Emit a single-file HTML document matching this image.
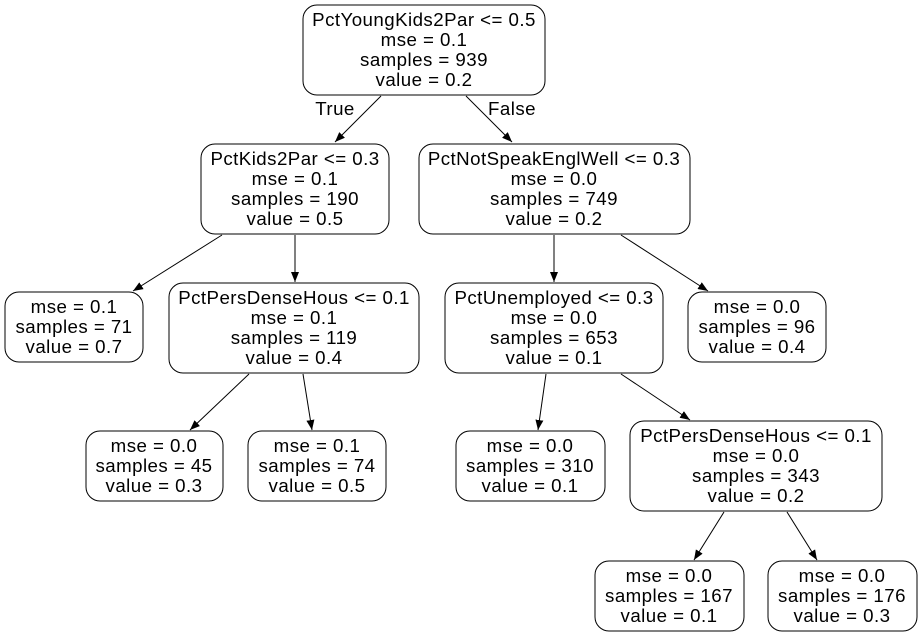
<!DOCTYPE html>
<html><head><meta charset="utf-8"><style>
html,body{margin:0;padding:0;background:#fff;}
svg{display:block;}
text{font-family:"Liberation Sans",sans-serif;font-size:18.7px;letter-spacing:0.45px;fill:#000;text-anchor:middle;}
rect{fill:#fff;stroke:#000;stroke-width:1;}
line{stroke:#000;stroke-width:1;}
</style></head><body>
<svg width="923" height="636" viewBox="0 0 923 636" xmlns="http://www.w3.org/2000/svg">
<defs><marker id="a" markerWidth="10" markerHeight="8" refX="10" refY="4" orient="auto" markerUnits="userSpaceOnUse"><polygon points="0,0 10,4 0,8" fill="#000"/></marker></defs>
<line x1="381" y1="96" x2="335" y2="142" marker-end="url(#a)"/>
<line x1="466" y1="96" x2="512" y2="142" marker-end="url(#a)"/>
<line x1="222" y1="235" x2="133" y2="291" marker-end="url(#a)"/>
<line x1="295" y1="235" x2="295" y2="282" marker-end="url(#a)"/>
<line x1="554" y1="235" x2="554" y2="282" marker-end="url(#a)"/>
<line x1="621" y1="235" x2="708" y2="291" marker-end="url(#a)"/>
<line x1="249" y1="374" x2="190" y2="430" marker-end="url(#a)"/>
<line x1="303" y1="374" x2="312" y2="430" marker-end="url(#a)"/>
<line x1="546" y1="374" x2="538" y2="430" marker-end="url(#a)"/>
<line x1="621" y1="374" x2="690" y2="420" marker-end="url(#a)"/>
<line x1="724" y1="512" x2="694" y2="560" marker-end="url(#a)"/>
<line x1="787" y1="512" x2="817" y2="560" marker-end="url(#a)"/>
<text x="335" y="115">True</text>
<text x="512" y="115">False</text>

<rect x="303" y="5" width="242" height="90" rx="14"/>
<text x="424" y="26">PctYoungKids2Par &lt;= 0.5</text><text x="424" y="46">mse = 0.1</text><text x="424" y="66">samples = 939</text><text x="424" y="86">value = 0.2</text>

<rect x="201" y="144" width="188" height="90" rx="14"/>
<text x="295" y="165">PctKids2Par &lt;= 0.3</text><text x="295" y="185">mse = 0.1</text><text x="295" y="205">samples = 190</text><text x="295" y="225">value = 0.5</text>

<rect x="419" y="144" width="271" height="90" rx="14"/>
<text x="554" y="165">PctNotSpeakEnglWell &lt;= 0.3</text><text x="554" y="185">mse = 0.0</text><text x="554" y="205">samples = 749</text><text x="554" y="225">value = 0.2</text>

<rect x="5" y="292" width="138" height="70" rx="14"/>
<text x="74" y="313">mse = 0.1</text><text x="74" y="333">samples = 71</text><text x="74" y="353">value = 0.7</text>

<rect x="169" y="283" width="250" height="90" rx="14"/>
<text x="294" y="304">PctPersDenseHous &lt;= 0.1</text><text x="294" y="324">mse = 0.1</text><text x="294" y="344">samples = 119</text><text x="294" y="364">value = 0.4</text>

<rect x="445" y="283" width="218" height="90" rx="14"/>
<text x="554" y="304">PctUnemployed &lt;= 0.3</text><text x="554" y="324">mse = 0.0</text><text x="554" y="344">samples = 653</text><text x="554" y="364">value = 0.1</text>

<rect x="688" y="292" width="138" height="70" rx="14"/>
<text x="757" y="313">mse = 0.0</text><text x="757" y="333">samples = 96</text><text x="757" y="353">value = 0.4</text>

<rect x="86" y="431" width="137" height="70" rx="14"/>
<text x="154" y="452">mse = 0.0</text><text x="154" y="472">samples = 45</text><text x="154" y="492">value = 0.3</text>

<rect x="248" y="431" width="138" height="70" rx="14"/>
<text x="317" y="452">mse = 0.1</text><text x="317" y="472">samples = 74</text><text x="317" y="492">value = 0.5</text>

<rect x="456" y="431" width="149" height="70" rx="14"/>
<text x="530" y="452">mse = 0.0</text><text x="530" y="472">samples = 310</text><text x="530" y="492">value = 0.1</text>

<rect x="630" y="421" width="252" height="90" rx="14"/>
<text x="756" y="442">PctPersDenseHous &lt;= 0.1</text><text x="756" y="462">mse = 0.0</text><text x="756" y="482">samples = 343</text><text x="756" y="502">value = 0.2</text>

<rect x="595" y="561" width="149" height="70" rx="14"/>
<text x="669" y="582">mse = 0.0</text><text x="669" y="602">samples = 167</text><text x="669" y="622">value = 0.1</text>

<rect x="768" y="561" width="149" height="70" rx="14"/>
<text x="842" y="582">mse = 0.0</text><text x="842" y="602">samples = 176</text><text x="842" y="622">value = 0.3</text>
</svg>
</body></html>
